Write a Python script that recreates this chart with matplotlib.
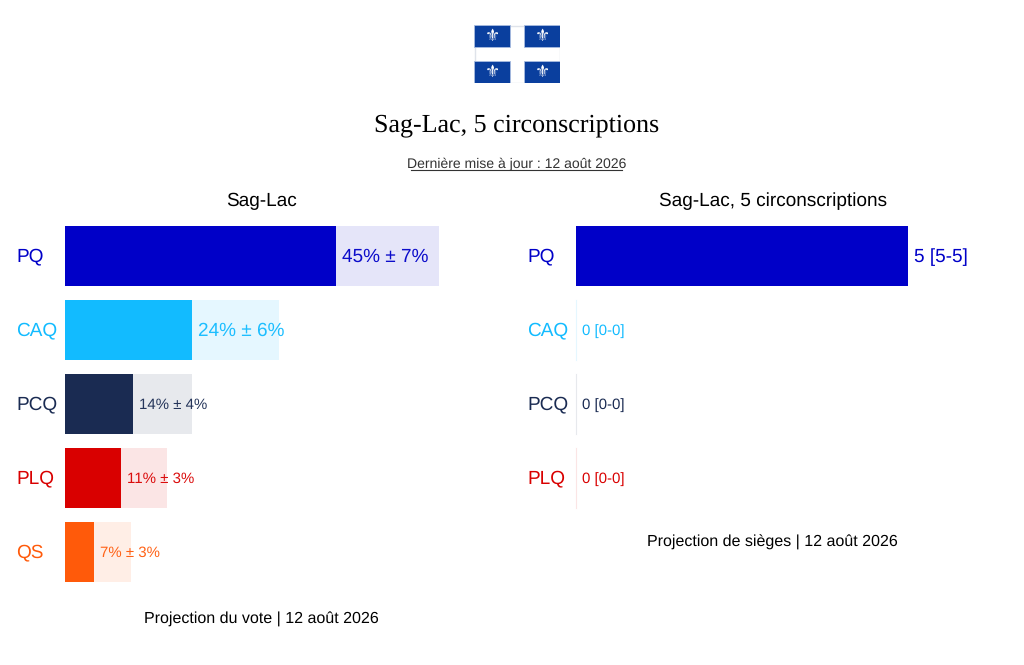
import matplotlib
matplotlib.use("Agg")
import matplotlib.pyplot as plt
from matplotlib.patches import Rectangle

plt.rcParams['font.family'] = ['Liberation Sans', 'DejaVu Sans']
plt.rcParams['text.hinting'] = 'no_hinting'
plt.rcParams['text.hinting_factor'] = 1

# Data
parties = ["PQ", "CAQ", "PCQ", "PLQ", "QS"]
colors = ["#0000c8", "#12bbff", "#1a2b52", "#d90000", "#ff5a0a"]
pale_colors = ["#e5e5f9", "#e5f7ff", "#e7e9ed", "#fbe5e5", "#ffeee6"]
vote_low = [37.9, 17.8, 9.5, 7.8, 4.0]
vote_high = [52.3, 29.9, 17.8, 14.3, 9.3]
vote_labels = ["45% ± 7%", "24% ± 6%", "14% ± 4%", "11% ± 3%", "7% ± 3%"]

seat_parties = ["PQ", "CAQ", "PCQ", "PLQ"]
seats = [5, 0, 0, 0]
seat_labels = ["5 [5-5]", "0 [0-0]", "0 [0-0]", "0 [0-0]"]

W, H = 1024, 665
fig = plt.figure(figsize=(W / 100, H / 100), dpi=100, facecolor="white")


# helper, pixel box (top-left origin) to axes
def px_axes(x0, y0, x1, y1):
    ax = fig.add_axes([x0 / W, 1 - y1 / H, (x1 - x0) / W, (y1 - y0) / H])
    ax.set_axis_off()
    return ax


def fig_text(x, y, s, **kw):
    fig.text(x / W, 1 - y / H, s, ha=kw.pop("ha", "center"), va="center", **kw)


# Flag
flag = px_axes(474, 25, 560, 83)
flag.set_xlim(0, 86)
flag.set_ylim(58, 0)
flag.add_patch(Rectangle((0.5, 0.5), 85, 57, fc="white", ec="#dfe3ea", lw=1))
for fx, fy in [(0, 0), (50, 0), (0, 36), (50, 36)]:
    flag.add_patch(Rectangle((fx, fy), 36, 22, fc="#0a3f9e", ec="#a9bde0", lw=0.6))
    flag.text(fx + 18, fy + 11.5, "\u269c", color="white", fontsize=12.5,
              ha="center", va="center", family="DejaVu Sans")

# Titles
fig_text(517, 125, "Sag-Lac, 5 circonscriptions", fontsize=19.05,
         family="Liberation Serif", color="black")
fig_text(516.5, 164, "Dernière mise à jour : 12 août 2026", fontsize=9.8, color="#333333")
fig.add_artist(plt.Line2D([411 / W, 622 / W], [1 - 170 / H] * 2, color="#333333", lw=0.8))
fig_text(262, 201, "Sag-Lac", fontsize=13.7, color="black")
fig_text(773, 201, "Sag-Lac, 5 circonscriptions", fontsize=13.7, color="black")

# Vote projection
left = px_axes(65, 219, 495, 589)
left.set_xlim(0, 430 / 7.15)
left.set_ylim(4.5, -0.5)
ys = list(range(len(parties)))
left.barh(ys, vote_high, height=60 / 74, color=pale_colors)
left.barh(ys, vote_low, height=60 / 74, color=colors)
label_sizes = [13.7, 13.7, 11, 11, 11]
for i, p in enumerate(parties):
    fig_text(16.5, 256 + 74 * i, p, ha="left", fontsize=13.7, color=colors[i])
    left.annotate(vote_labels[i], (vote_low[i], i), xytext=(6, -1), textcoords="offset pixels",
                  va="center", ha="left", fontsize=label_sizes[i], color=colors[i], alpha=0.95)
fig_text(261.5, 619, "Projection du vote | 12 août 2026", fontsize=11.3, color="black")

# Seat projection
right = px_axes(576, 219, 1006, 515)
right.set_xlim(0, 430 / 66.4)
right.set_ylim(3.5, -0.5)
right.barh(range(len(seats)), seats, height=60 / 74, color=colors[:4])
for i, p in enumerate(seat_parties):
    fig_text(527.5, 256 + 74 * i, p, ha="left", fontsize=13.7, color=colors[i])
    if seats[i] == 0:
        right.plot([0, 0], [i - 30 / 74, i + 30 / 74], color=pale_colors[i], lw=0.8, clip_on=False)
    right.annotate(seat_labels[i], (seats[i], i), xytext=(6, -1), textcoords="offset pixels",
                   va="center", ha="left", fontsize=13.7 if seats[i] else 11, color=colors[i])
fig_text(772.5, 542, "Projection de sièges | 12 août 2026", fontsize=11.3, color="black")

fig.savefig("out.png", dpi=100, facecolor="white")
